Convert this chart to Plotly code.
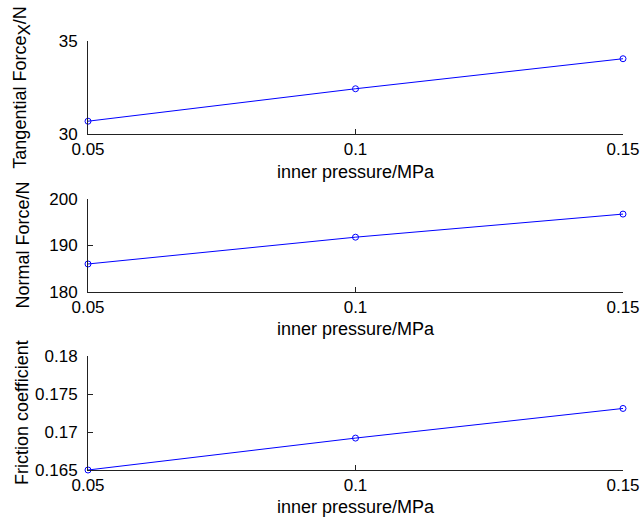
import plotly.graph_objects as go

pressure = [0.05, 0.1, 0.15]
tangential_force = [30.69, 32.44, 34.06]
normal_force = [186.0, 191.8, 196.8]
friction_coef = [0.1650, 0.1692, 0.1731]

x_ticks = [0.05, 0.1, 0.15]
x_ticklabels = ["0.05", "0.1", "0.15"]
y1_ticks = [30, 35]
y2_ticks = [180, 190, 200]
y3_ticks = [0.165, 0.17, 0.175, 0.18]
y3_ticklabels = ["0.165", "0.17", "0.175", "0.18"]

W, H = 644, 517
FAM = "Liberation Sans, Arial, Helvetica, sans-serif"
FONT = dict(family=FAM, size=17, color="black")
TFONT = dict(family=FAM, size=18, color="black")

fig = go.Figure()

series = [tangential_force, normal_force, friction_coef]
# pixel positions of each axes box (left, right, top, bottom)
x_px = (88, 623)
y_px = [(41.3, 134), (199.3, 291.7), (356, 470)]
yranges = [[30, 35], [180, 200], [0.165, 0.18]]
ytickvals = [y1_ticks, y2_ticks, y3_ticks]
yticktexts = [[str(v) for v in y1_ticks], [str(v) for v in y2_ticks], y3_ticklabels]
ytitles = ["Tangential Force<sub><span style='font-size:17px'>X</span></sub>/N",
           "Normal Force/N", "Friction coefficient"]

layout = dict(
    width=W, height=H,
    margin=dict(l=0, r=0, t=0, b=0, autoexpand=False),
    paper_bgcolor="white", plot_bgcolor="white",
    showlegend=False, font=FONT,
)
annotations = []
for i, ys in enumerate(series):
    n = "" if i == 0 else str(i + 1)
    fig.add_trace(go.Scatter(
        x=pressure, y=ys, mode="lines+markers",
        line=dict(color="#0000ff", width=1),
        marker=dict(symbol="circle-open", size=6, color="#0000ff", line=dict(width=1)),
        xaxis="x" + n, yaxis="y" + n, cliponaxis=False,
    ))
    top, bot = y_px[i]
    layout["xaxis" + n] = dict(
        domain=[x_px[0] / W, x_px[1] / W], anchor="y" + n, automargin=False,
        range=[0.05, 0.15], tickvals=x_ticks, ticktext=x_ticklabels,
        ticks="inside", ticklen=5, tickcolor="#222", tickwidth=1,
        showline=True, linecolor="#222", linewidth=1, showgrid=False, zeroline=False,
        tickfont=FONT, ticklabelstandoff=0,
        title=dict(text="inner pressure/MPa", font=TFONT, standoff=6),
    )
    layout["yaxis" + n] = dict(
        domain=[1 - bot / H, 1 - top / H], anchor="x" + n, automargin=False,
        range=yranges[i], tickvals=ytickvals[i], ticktext=yticktexts[i],
        ticks="inside", ticklen=5, tickcolor="#222", tickwidth=1,
        showline=True, linecolor="#222", linewidth=1, showgrid=False, zeroline=False,
        tickfont=FONT, ticklabelstandoff=6,
    )
    annotations.append(dict(
        text=ytitles[i], textangle=-90, font=TFONT, showarrow=False,
        xref="paper", yref="paper", x=22 / W, y=1 - (top + bot) / 2 / H,
        xanchor="center", yanchor="middle",
    ))
layout["annotations"] = annotations
fig.update_layout(**layout)
fig.write_html("out.html")
